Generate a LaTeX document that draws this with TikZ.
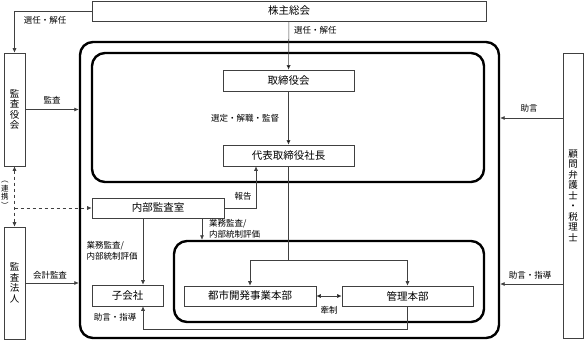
\documentclass[tikz,border=0pt]{standalone}
\usepackage{fontspec}
\setmainfont{Noto Sans CJK JP}
\usetikzlibrary{arrows.meta}

\begin{document}
\begin{tikzpicture}[x=1pt, y=-1pt,
    line/.style = {draw=black!75, line width=0.6pt},
    arr/.style = {line, -{Latex[length=4.5pt,width=4pt]}},
    main/.style = {line, fill=white, inner sep=0pt, font=\fontsize{10.5}{10.5}\selectfont},
    tate/.style = {main, align=center, font=\fontsize{9.5}{10.5}\selectfont},
    group/.style = {draw, line width=2.4pt, rounded corners=13pt, inner sep=0pt},
    lbl/.style = {inner sep=0pt, font=\fontsize{8.5}{11}\selectfont}]
    \useasboundingbox (0,0) rectangle (584,341);

    % groups
    \node[group, minimum width=419pt, minimum height=296pt] (corp) at (289.5,190) {};
    \node[group, minimum width=392pt, minimum height=129pt] (mgmt) at (288,117.5) {};
    \node[group, minimum width=310pt, minimum height=81pt] (ops) at (329,281.5) {};

    % boxes
    \node[main, minimum width=394pt, minimum height=20pt] (share) at (289,11) {株主総会};
    \node[main, minimum width=131pt, minimum height=21pt] (board) at (288.5,80.5) {取締役会};
    \node[main, minimum width=131pt, minimum height=21pt] (ceo) at (288.5,155.5) {代表取締役社長};
    \node[main, minimum width=132pt, minimum height=20pt] (audit) at (158,208) {内部監査室};
    \node[main, minimum width=71pt, minimum height=21pt] (sub) at (127.5,295.5) {子会社};
    \node[main, minimum width=132pt, minimum height=20pt] (toshi) at (250,296) {都市開発事業本部};
    \node[main, minimum width=131pt, minimum height=20pt] (kanri) at (407.5,296) {管理本部};
    \node[tate, minimum width=21pt, minimum height=113pt] (kansayaku) at (14.5,109.5) {監\\査\\役\\会};
    \node[tate, minimum width=21pt, minimum height=112pt] (houjin) at (14.5,283) {監\\査\\法\\人};
    \node[tate, minimum width=20pt, minimum height=285pt] (komon) at (573,195.5) {顧\\問\\弁\\護\\士\\・\\税\\理\\士};

    % top
    \draw[arr] (share.west) -| (kansayaku.north);
    \node[lbl] at (45,20) {選任・解任};
    \path[arr] (share) edge (board);
    \node[lbl, anchor=west] at (294,30) {選任・解任};
    \path[arr] (board) edge (ceo);
    \node[lbl] at (245,118) {選定・解職・監督};

    % president to divisions
    \coordinate (split) at (288.5,260);
    \draw[line] (ceo) -- (split);
    \draw[arr] (split) -| (toshi);
    \draw[arr] (split) -| (kanri);
    \path[{Latex[length=4.5pt,width=4pt]}-{Latex[length=4.5pt,width=4pt]}, line] (toshi) edge (kanri);
    \node[lbl] at (329,310) {牽制};

    % internal audit
    \draw[arr] (audit.east) -| ([xshift=-32.5pt]ceo.south);
    \node[lbl] at (243,196) {報告};
    \draw[arr] ([xshift=-15pt]audit.south) -- ([xshift=-15pt]audit.south |- sub.north);
    \node[lbl, align=left] at (112,251) {業務監査/\\内部統制評価};
    \draw[arr] ([xshift=44pt]audit.south) -- ([xshift=44pt]audit.south |- ops.north);
    \node[lbl, align=left, anchor=west] at (209,229) {業務監査/\\内部統制評価};
    \draw[arr] (kanri.south) -- ++(0,23) -| ([xshift=15.5pt]sub.south);
    \node[lbl] at (115,317) {助言・指導};

    % auditors
    \draw[arr] (kansayaku.east) -- (kansayaku.east -| corp.west);
    \node[lbl] at (52,100) {監査};
    \draw[arr] (houjin.east) -- (houjin.east -| corp.west);
    \node[lbl] at (50,275) {会計監査};
    \draw[line, dashed, {Latex[length=4.5pt,width=4pt]}-{Latex[length=4.5pt,width=4pt]}] (kansayaku) -- (houjin);
    \draw[arr, dashed] (kansayaku.south |- audit.west) -- (audit.west);
    \node[lbl, align=center, font=\fontsize{7.5}{8.5}\selectfont] at (5,195) {︵\\連\\携\\︶};

    % advisers
    \draw[arr] ([yshift=77.5pt]komon.west) -- ([yshift=77.5pt]komon.west -| corp.east);
    \node[lbl] at (529,108) {助言};
    \draw[arr] ([yshift=-88.5pt]komon.west) -- ([yshift=-88.5pt]komon.west -| corp.east);
    \node[lbl] at (530,275) {助言・指導};
\end{tikzpicture}
\end{document}
